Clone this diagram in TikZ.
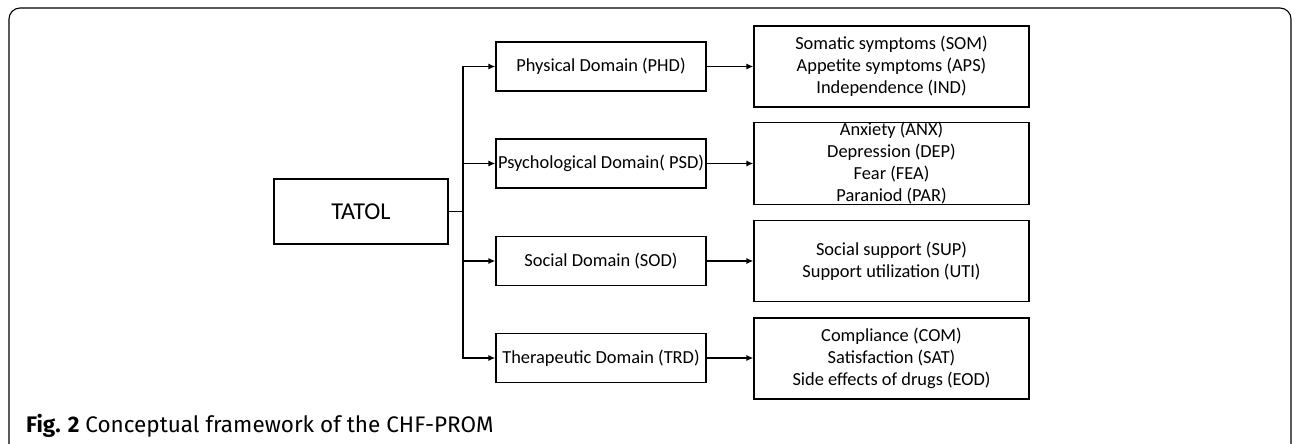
\documentclass[tikz,border=0pt]{standalone}
\usepackage{fontspec}
\setmainfont{Carlito}
\newfontfamily\capfont{Fira Sans}
\usetikzlibrary{arrows.meta}
\begin{document}
\begin{tikzpicture}[x=1pt,y=-1pt,
  box/.style={draw,line width=1.3pt,inner sep=0pt,align=center,
    font=\fontsize{18.4}{22}\selectfont},
  dombox/.style={box,minimum width=210pt,minimum height=49pt},
  itembox/.style={box,minimum width=275pt,minimum height=81pt},
  conn/.style={line width=1.3pt},
  arr/.style={conn,-{Latex[length=7pt,width=6pt]}}]
\useasboundingbox (0,0) rectangle (1292,444);
\draw[line width=1.1pt,rounded corners=11pt] (9,450) -- (9,8) -- (1291,8) -- (1291,450);
\node[box,minimum width=174pt,minimum height=65pt,font=\fontsize{24.2}{28}\selectfont] (tatol) at (361,211.5) {TATOL};
\node[dombox] (phd) at (601,66.5) {Physical Domain (PHD)};
\node[dombox] (psd) at (601,163.5) {Psychological Domain( PSD)};
\node[dombox] (sod) at (601,261) {Social Domain (SOD)};
\node[dombox] (trd) at (601,358) {Therapeutic Domain (TRD)};
\node[itembox] (phi) at (891.5,66.5) {Somatic symptoms (SOM)\\Appetite symptoms (APS)\\Independence (IND)};
\node[itembox] (psi) at (891.5,163.5) {Anxiety (ANX)\\Depression (DEP)\\Fear (FEA)\\Paraniod (PAR)};
\node[itembox] (soi) at (891.5,261) {Social support (SUP)\\Support utilization (UTI)};
\node[itembox] (tri) at (891.5,358.5) {Compliance (COM)\\Satisfaction (SAT)\\Side effects of drugs (EOD)};
\coordinate (tr) at (463,211.5);
\draw[conn] (tatol.east) -- (tr);
\draw[arr] (tr) |- (phd.west);
\draw[arr] (tr) |- (psd.west);
\draw[arr] (tr) |- (sod.west);
\draw[arr] (tr) |- (trd.west);
\draw[arr] (phd.east) -- (phd.east -| phi.west);
\draw[arr] (psd.east) -- (psd.east -| psi.west);
\draw[arr] (sod.east) -- (sod.east -| soi.west);
\draw[arr] (trd.east) -- (trd.east -| tri.west);
\node[anchor=base west,inner sep=0pt,font=\capfont\fontsize{22.5}{26}\selectfont] (cap) at (26,432) {\textbf{Fig. 2} Conceptual framework of the CHF-PROM};
\end{tikzpicture}
\end{document}
